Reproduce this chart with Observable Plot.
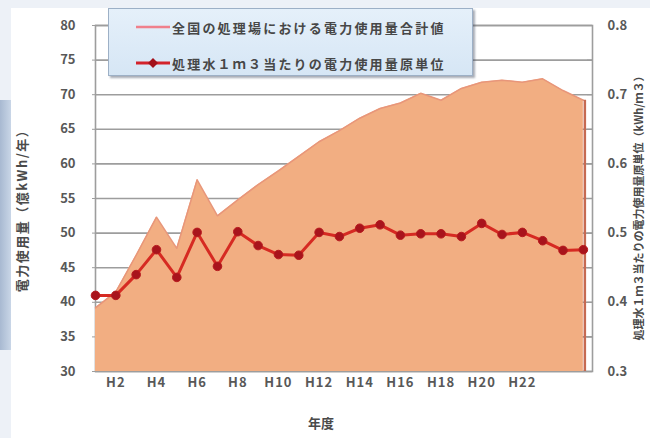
<!DOCTYPE html>
<html>
<head>
<meta charset="utf-8">
<script src="https://cdn.jsdelivr.net/npm/d3@7"></script>
<script src="https://cdn.jsdelivr.net/npm/@observablehq/plot@0.6"></script>
<style>
  html, body { margin: 0; padding: 0; background: #edf1f7; }
  #wrap { position: relative; width: 650px; height: 438px; overflow: hidden; background: #edf1f7; }
  #panel { position: absolute; left: 11px; top: 8px; right: 0; bottom: 0; background: #ffffff; }
  #band { position: absolute; left: 0; top: 100px; width: 11px; height: 250px;
          background: linear-gradient(to right, #a8b9d1, #c9d6e7); }
  #chart { position: absolute; left: 0; top: 0; }
  #legend { position: absolute; left: 108px; top: 8px; width: 365px; height: 68px; box-sizing: border-box;
            border: 1px solid #9db0c6; background: linear-gradient(#e5f0fa, #d6e6f5);
            box-shadow: 2px 2px 2px rgba(60, 70, 90, 0.45);
            font-family: "Noto Sans CJK JP", sans-serif; font-weight: 700; font-size: 13px;
            color: #474747; letter-spacing: 2.2px; }
  #legend .row { position: absolute; left: 26px; height: 20px; display: flex; align-items: center; white-space: nowrap; }
  #legend svg { display: block; margin-right: 1px; }
  #chart g[aria-label="x-axis tick label"] text { letter-spacing: 1px; }
  #chart .ytitle { letter-spacing: 1.5px; }
</style>
</head>
<body>
<div id="wrap">
  <div id="panel"></div>
  <div id="band"></div>
  <div id="chart"></div>
  <div id="legend">
    <div class="row" style="top:8px">
      <svg width="36" height="20"><line x1="1" y1="10" x2="35" y2="10" stroke="#f0808c" stroke-width="2.5"/></svg>
      <span>全国の処理場における電力使用量合計値</span>
    </div>
    <div class="row" style="top:44px">
      <svg width="36" height="20"><line x1="1" y1="10" x2="35" y2="10" stroke="#d3222a" stroke-width="3"/><path d="M18,5 L23,10 L18,15 L13,10 Z" fill="#a3101a"/></svg>
      <span>処理水１ｍ３当たりの電力使用量原単位</span>
    </div>
  </div>
</div>
<script>
// Fiscal years (Heisei era, H1 … H25)
const fiscalYears = [1, 2, 3, 4, 5, 6, 7, 8, 9, 10, 11, 12, 13, 14, 15, 16, 17, 18, 19, 20, 21, 22, 23, 24, 25];

// Total electricity used by all treatment plants nationwide (億kWh/年)
const totalUse = [39.2, 41.5, 46.8, 52.3, 47.8, 57.7, 52.5, 54.8, 57.0, 59.0, 61.1, 63.2, 64.8,
                  66.6, 68.0, 68.8, 70.2, 69.2, 70.9, 71.8, 72.1, 71.8, 72.3, 70.6, 69.2];

// Electricity per 1 m3 of treated water (kWh/m3)
const unitUse = [0.410, 0.410, 0.440, 0.476, 0.436, 0.501, 0.452, 0.502, 0.482, 0.469, 0.468, 0.501, 0.495,
                 0.507, 0.512, 0.497, 0.499, 0.499, 0.495, 0.514, 0.498, 0.501, 0.489, 0.475, 0.476];

// Axis ticks
const leftTicks = [30, 35, 40, 45, 50, 55, 60, 65, 70, 75, 80];
const rightTicks = [0.3, 0.4, 0.5, 0.6, 0.7, 0.8];
const xTicks = [2, 4, 6, 8, 10, 12, 14, 16, 18, 20, 22];

const rows = fiscalYears.map((yr, i) => ({yr, total: totalUse[i], unit: unitUse[i]}));
const last = rows.slice(-1);

// The per-m3 series shares the left scale: 0.1 kWh/m3 ↔ 10 億kWh
const unitToLeft = d => d.unit * 100;

const gridColor = "#9d9d9d";
const textColor = "#585858";

const chart = Plot.plot({
  width: 650,
  height: 438,
  marginLeft: 95,
  marginRight: 58,
  marginTop: 25,
  marginBottom: 67,
  style: {background: "transparent", fontFamily: '"Noto Sans CJK JP", sans-serif', fontSize: "13px", fontWeight: "700", color: textColor},
  x: {domain: [1, 25.45]},
  y: {domain: [30, 80]},
  marks: [
    Plot.ruleY(leftTicks, {stroke: gridColor, strokeWidth: 1.6}),
    Plot.frame({stroke: gridColor, strokeWidth: 1.6}),
    Plot.areaY(rows, {x: "yr", y1: 30, y2: "total", fill: "#f2ae82"}),
    Plot.lineY(rows, {x: "yr", y: "total", stroke: "#e8967a", strokeWidth: 1.5}),
    Plot.ruleX(last, {x: "yr", y1: 30, y2: "total", stroke: "#c66a52", strokeWidth: 2.5, dx: 1.5}),
    Plot.line(rows, {x: "yr", y: unitToLeft, stroke: "#d62a22", strokeWidth: 3}),
    Plot.dot(rows, {x: "yr", y: unitToLeft, r: 4.3, fill: "#a8141c", stroke: "#b81a1e", strokeWidth: 1}),
    Plot.axisY({anchor: "left", ticks: leftTicks, tickSize: 3, tickPadding: 17, label: null, stroke: gridColor, fill: textColor}),
    Plot.axisY({anchor: "right", ticks: leftTicks, tickSize: -6, tickFormat: () => "", label: null, stroke: gridColor}),
    Plot.axisY({anchor: "right", ticks: rightTicks.map(v => v * 100), tickSize: 0, tickPadding: 15,
                tickFormat: v => (v / 100).toFixed(1), label: null, fill: textColor}),
    Plot.axisX({ticks: xTicks, tickSize: 0, tickPadding: 6, tickFormat: d => "H" + d, label: null, fill: textColor}),
    Plot.text(["電力使用量（億kWh/年）"], {text: d => d, frameAnchor: "left", textAnchor: "middle", rotate: -90, dx: -73, dy: 9,
              fontSize: 13, fill: "#4a4a4a", className: "ytitle"}),
    Plot.text(["処理水１ｍ３当たりの電力使用量原単位（kWh/ｍ３）"], {text: d => d, frameAnchor: "right", textAnchor: "middle", rotate: -90, dx: 47, dy: 7,
              fontSize: 11, fill: "#4a4a4a"}),
    Plot.text(["年度"], {text: d => d, frameAnchor: "bottom", dx: -23, dy: 56, fontSize: 13, fill: "#4a4a4a"})
  ]
});

document.getElementById("chart").appendChild(chart);
</script>
</body>
</html>
